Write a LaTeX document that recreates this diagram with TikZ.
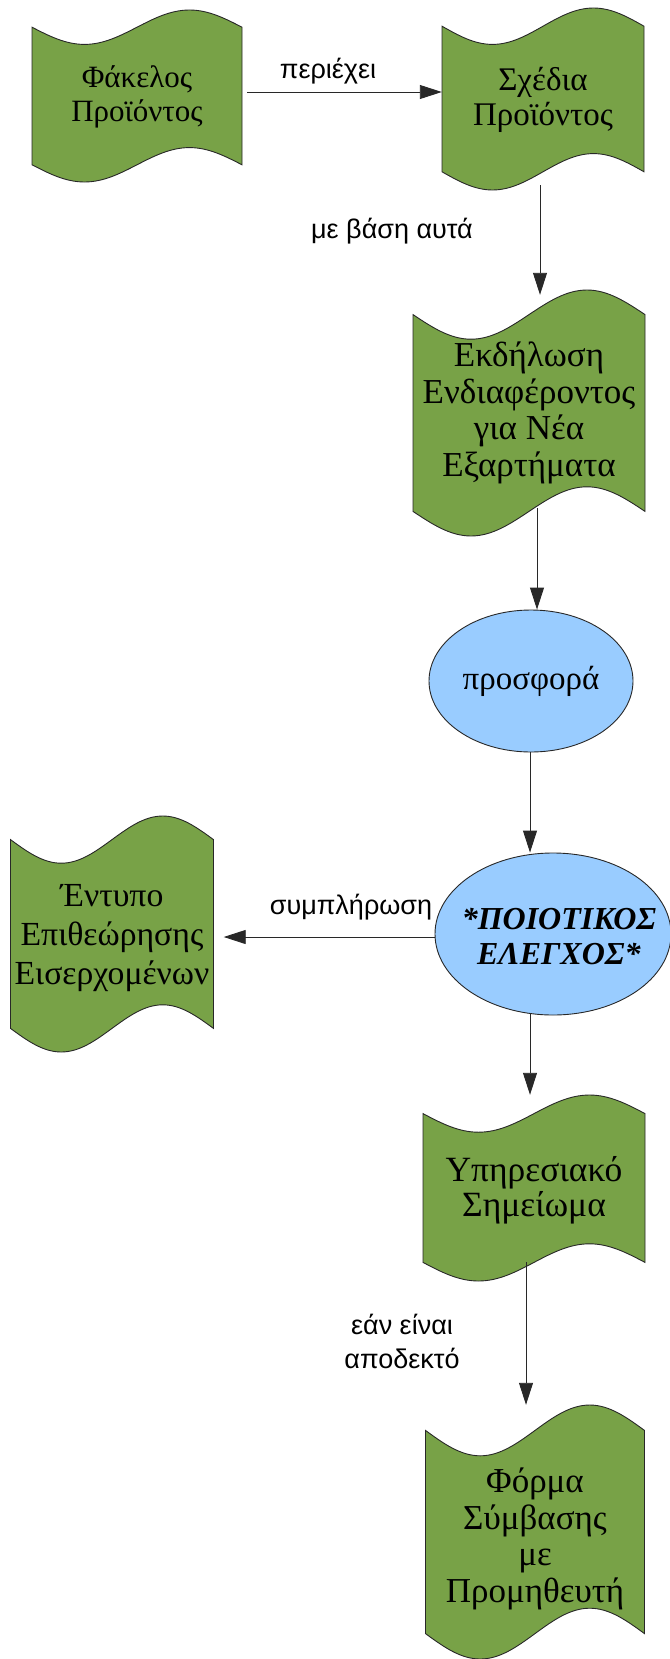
\documentclass[tikz,border=0pt]{standalone}
\usepackage{fontspec}
\setmainfont{Liberation Serif}
\newfontfamily\labelfont{Liberation Sans}
\usetikzlibrary{arrows.meta,shapes.geometric,calc}
\definecolor{tapegreen}{RGB}{120,162,71}
\definecolor{ovalblue}{RGB}{153,204,255}
\definecolor{edgegray}{RGB}{40,40,40}
\tikzset{
  tapeline/.style={fill=tapegreen,draw=edgegray,line width=0.9pt},
  tapetext/.style={rectangle,inner sep=0pt,align=center},
  ovalnode/.style={ellipse,fill=ovalblue,draw=edgegray,line width=0.9pt,inner xsep=-40pt,inner ysep=0pt,align=center},
  conn/.style={draw=edgegray,line width=0.9pt,-{Triangle[length=22pt,width=14pt]}},
  lbl/.style={inner sep=0pt,align=center,font=\labelfont\fontsize{27}{34}\selectfont}
}
% #1 name, #2 cx, #3 cy, #4 w, #5 h, #6 font size, #7 line skip, #8 text y offset, #9 text
\newcommand\tapebox[9]{%
  \path[tapeline] ({#2-#4/2},{#3-#5/2+0.1*#5}) sin ({#2-#4/4},{#3-#5/2+0.2*#5}) cos ({#2},{#3-#5/2+0.1*#5}) sin ({#2+#4/4},{#3-#5/2}) cos ({#2+#4/2},{#3-#5/2+0.1*#5}) -- ({#2+#4/2},{#3+#5/2-0.1*#5}) sin ({#2+#4/4},{#3+#5/2-0.2*#5}) cos ({#2},{#3+#5/2-0.1*#5}) sin ({#2-#4/4},{#3+#5/2}) cos ({#2-#4/2},{#3+#5/2-0.1*#5}) -- cycle;
  \node[tapetext,minimum width=#4pt,minimum height=#5pt,font=\fontsize{#6}{#7}\selectfont] (#1) at (#2,#3) {};
  \node[tapetext,font=\fontsize{#6}{#7}\selectfont] (#1t) at (#2,{#3+#8}) {#9};}
\begin{document}
\begin{tikzpicture}[x=1pt,y=-1pt]
\useasboundingbox (0,0) rectangle (669,1659);
\tapebox{b1}{137}{96}{210}{172}{31}{34}{1}{Φάκελος\\Προϊόντος}
\tapebox{b2}{543}{99}{202}{182}{33}{35}{1}{Σχέδια\\Προϊόντος}
\tapebox{b3}{529}{413}{232}{246}{35}{36.5}{0}{Εκδήλωση\\Ενδιαφέροντος\\για Νέα\\Εξαρτήματα}
\node[ovalnode,minimum width=204pt,minimum height=142pt,font=\fontsize{33}{36}\selectfont] (e1) at (531,681) {προσφορά};
\node[ovalnode,minimum width=236pt,minimum height=162pt] (e2) at (553,934) {};
\node[inner sep=0pt,align=center,font=\fontsize{32}{35}\selectfont] (e2t) at (559,936) {\textbf{\textit{*ΠΟΙΟΤΙΚΟΣ}}\\\textbf{\textit{ΕΛΕΓΧΟΣ*}}};
\tapebox{b4}{112}{934}{203}{236}{33.7}{39}{4}{Έντυπο\\Επιθεώρησης\\Εισερχομένων}
\tapebox{b5}{534}{1188}{222}{186}{35.5}{35}{2}{Υπηρεσιακό\\Σημείωμα}
\tapebox{b6}{535}{1532}{219}{254}{35}{36.5}{7}{Φόρμα\\Σύμβασης\\με\\Προμηθευτή}
% connectors
\draw[conn] ($(b1.east)+(5,-4)$) -- ($(b2.west)+(0,-7)$);
\draw[conn] ($(b2.south)+(-3,-5)$) -- ($(b3.north)+(11,5)$);
\draw[conn] ($(b3.south)+(8,-28)$) -- ($(e1.north)+(6,0)$);
\coordinate (c4) at ($(e1.south)+(-1,0)$);
\draw[conn] (c4) -- (c4 |- e2.north);
\coordinate (c5) at ($(e2.west)+(0,3)$);
\draw[conn] (c5) -- ($(c5 -| b4.east)+(10,0)$);
\coordinate (c6) at ($(e2.south)+(-23,-1.5)$);
\draw[conn] (c6) -- (c6 |- b5.north);
\coordinate (c7) at ($(b5.south)+(-8,-19)$);
\draw[conn] (c7) -- (c7 |- b6.north);
% labels
\node[lbl] (l1) at (328,71) {περιέχει};
\node[lbl] (l2) at (392,231) {με βάση αυτά};
\node[lbl] (l3) at (351,907) {συμπλήρωση};
\node[lbl] (l4) at (402,1341) {εάν είναι\\αποδεκτό};
\end{tikzpicture}
\end{document}
